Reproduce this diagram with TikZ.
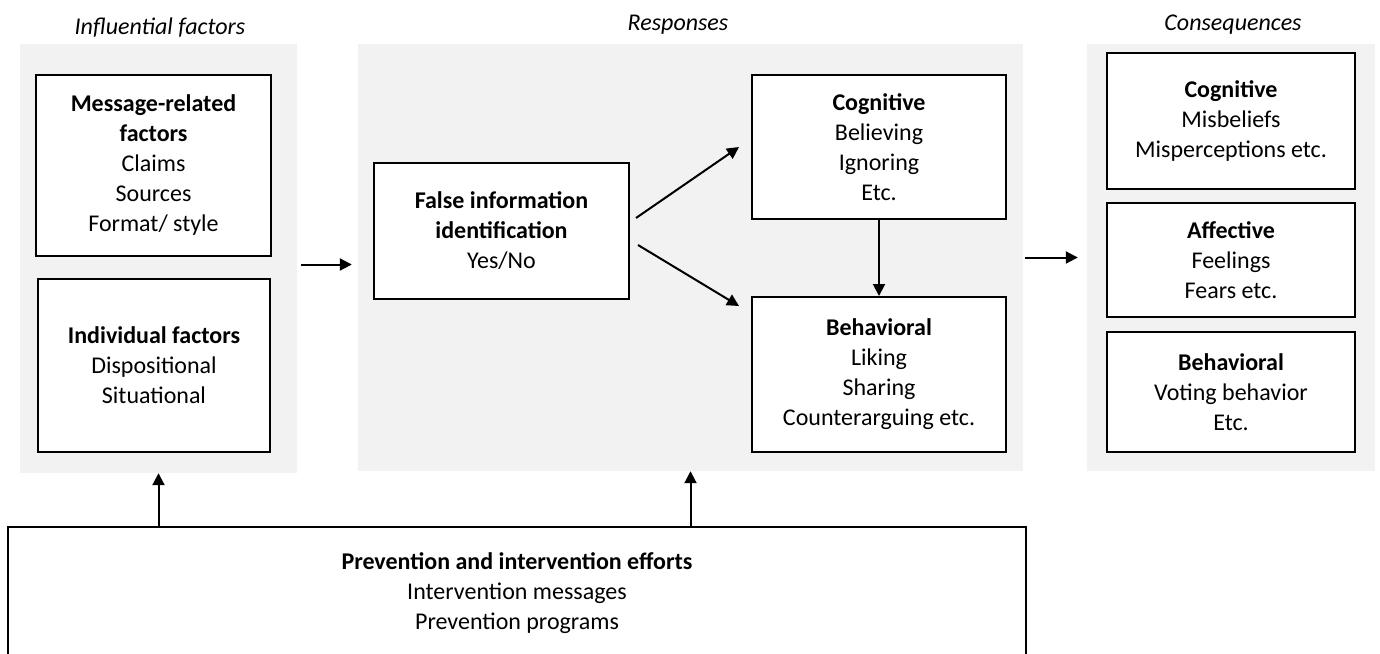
\documentclass[tikz,border=0pt]{standalone}
\usepackage{fontspec}
\setmainfont{Carlito}
\usepackage{tikz}
\usetikzlibrary{arrows.meta,positioning}
\definecolor{panelGray}{RGB}{242,242,242}

\begin{document}
\begin{tikzpicture}[x=1pt,y=-1pt,
  font=\fontsize{24}{30}\selectfont,
  panel/.style={fill=panelGray, draw=none, inner sep=0pt},
  box/.style={draw=black, fill=white, line width=2pt, align=center, inner sep=0pt},
  ttl/.style={font=\fontsize{24}{30}\selectfont\itshape, anchor=base},
  arr/.style={-{Triangle[length=12pt,width=12pt]}, line width=2pt}]
\clip (0,0) rectangle (1380,653);
\fill[white] (0,0) rectangle (1380,653);
\node[panel, minimum width=277, minimum height=429] (infl) at (158.5,258.5) {};
\node[panel, minimum width=665, minimum height=427] (resp) at (690.5,257.5) {};
\node[panel, minimum width=288, minimum height=427] (cons) at (1231,257.5) {};
\node[ttl] (inflT) at (160,34) {Influential factors};
\node[ttl] (respT) at (678,30) {Responses};
\node[ttl] (consT) at (1233,30) {Consequences};
\node[box, minimum width=235, minimum height=181] (msg) at (153.5,165.5)
  {\textbf{Message-related}\\\textbf{factors}\\Claims\\Sources\\Format/ style};
\node[box, minimum width=232, minimum height=173] (indiv) at (154,365.5)
  {\textbf{Individual factors}\\Dispositional\\Situational};
\node[box, minimum width=255, minimum height=136] (falseid) at (501.5,231)
  {\textbf{False information}\\\textbf{identification}\\Yes/No};
\node[box, minimum width=254, minimum height=144] (cog) at (879,147)
  {\textbf{Cognitive}\\Believing\\Ignoring\\Etc.};
\node[box, minimum width=254, minimum height=155] (beh) at (879,374.5)
  {\textbf{Behavioral}\\Liking\\Sharing\\Counterarguing etc.};
\node[box, minimum width=248, minimum height=136] (ccog) at (1231,121)
  {\textbf{Cognitive}\\Misbeliefs\\Misperceptions etc.};
\node[box, minimum width=248, minimum height=114] (caff) at (1231,260)
  {\textbf{Affective}\\Feelings\\Fears etc.};
\node[box, minimum width=248, minimum height=120] (cbeh) at (1231,392)
  {\textbf{Behavioral}\\Voting behavior\\Etc.};
\node[box, minimum width=1018, minimum height=132] (prev) at (517,593)
  {\textbf{Prevention and intervention efforts}\\Intervention messages\\Prevention programs};
\draw[arr, shorten <=4pt, shorten >=6pt] ([yshift=-6pt]infl.east) -- ([yshift=-6pt]infl.east -| resp.west);
\draw[arr, shorten <=2pt, shorten >=9pt] (resp.east) -- (cons.west);
\draw[arr] ([xshift=6pt,yshift=13pt]falseid.east) -- ([xshift=-12pt]cog.west);
\draw[arr] ([xshift=8pt,yshift=-14pt]falseid.east) -- ([xshift=-12pt,yshift=-10pt]beh.north west);
\draw[arr] (cog.south) -- (beh.north);
\draw[arr] (prev.north -| infl.south) -- (infl.south);
\draw[arr] (prev.north -| resp.south) -- (resp.south);
\end{tikzpicture}
\end{document}
